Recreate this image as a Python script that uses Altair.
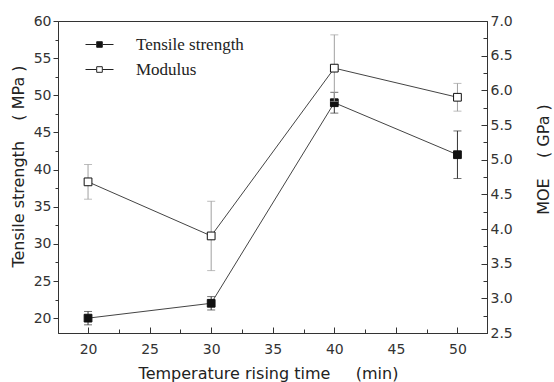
import altair as alt
import pandas as pd

times = [20, 30, 40, 50]
tensile = [20.0, 22.0, 49.0, 42.0]
tensile_err = [0.9, 0.9, 1.4, 3.2]
modulus = [4.68, 3.90, 6.32, 5.90]
modulus_err = [0.25, 0.5, 0.48, 0.2]
series_names = ["Tensile strength", "Modulus"]

x_ticks = [20 + 2.5 * i for i in range(13)]
left_ticks = [20 + 2.5 * i for i in range(17)]
right_ticks = [round(2.5 + 0.25 * i, 2) for i in range(19)]

df_t = pd.DataFrame({
    "t": times, "v": tensile,
    "lo": [v - e for v, e in zip(tensile, tensile_err)],
    "hi": [v + e for v, e in zip(tensile, tensile_err)],
    "series": series_names[0],
})
df_m = pd.DataFrame({
    "t": times, "v": modulus,
    "lo": [v - e for v, e in zip(modulus, modulus_err)],
    "hi": [v + e for v, e in zip(modulus, modulus_err)],
    "series": series_names[1],
})

FONT = "DejaVu Sans"
W, H = 429, 312

xscale = alt.Scale(domain=[17.56, 52.4], nice=False, zero=False)
xaxis = alt.Axis(
    values=x_ticks,
    labelExpr="datum.value % 5 === 0 ? datum.label : ''",
    labelOverlap=False,
    tickSize={"condition": {"test": "datum.value % 5 === 0", "value": -6}, "value": -4},
    labelPadding=15,
    title="Temperature rising time\u00a0\u00a0\u00a0\u00a0\u00a0(min)",
    titleX=210, titleY=40, titleBaseline="middle", titleAlign="center",
    grid=False,
)

lscale = alt.Scale(domain=[18, 60], nice=False, zero=False)
laxis = alt.Axis(
    values=left_ticks,
    labelExpr="datum.value % 5 === 0 ? datum.label : ''",
    labelOverlap=False,
    tickSize={"condition": {"test": "datum.value % 5 === 0", "value": 5}, "value": 3},
    labelPadding=2,
    title="Tensile strength\u00a0\u00a0\u00a0\u00a0(\u00a0MPa\u00a0)",
    titleX=-40, titleY=145, titleBaseline="middle", titleAlign="center", titleAngle=270,
    grid=False, orient="left",
)

rscale = alt.Scale(domain=[2.5, 7.0], nice=False, zero=False)
raxis = alt.Axis(
    values=right_ticks,
    labelExpr="abs(datum.value * 2 - round(datum.value * 2)) < 0.01 ? format(datum.value, '.1f') : ''",
    labelOverlap=False,
    tickSize={"condition": {"test": "abs(datum.value * 2 - round(datum.value * 2)) < 0.01", "value": -6}, "value": -4},
    labelPadding=9,
    title="MOE\u00a0\u00a0\u00a0\u00a0(\u00a0GPa\u00a0)",
    titleX=56, titleY=138, titleBaseline="middle", titleAlign="center", titleAngle=270,
    grid=False, orient="right",
)

legend_path = "M-1,0H-0.22M0.22,0H1M-0.2,-0.2H0.2V0.2H-0.2Z"
fill_scale = alt.Scale(domain=series_names, range=["#111111", "white"])
legend = alt.Legend(
    title=None, orient="none", legendX=27, legendY=12,
    symbolType=legend_path, symbolSize=784, symbolStrokeColor="#222222",
    symbolStrokeWidth=1, labelFont="Liberation Serif", labelFontSize=17,
    labelColor="#222222", labelOffset=22, rowPadding=2, clipHeight=23, padding=0,
)


def series_layer(df, yscale, yaxis, bar_color):
    base = alt.Chart(df)
    x = alt.X("t:Q", scale=xscale, axis=xaxis)

    def y(field):
        return alt.Y(field, type="quantitative", scale=yscale, axis=yaxis)

    line = base.mark_line(color="#444444", strokeWidth=1).encode(x=x, y=y("v"))
    bars = base.mark_rule(color=bar_color, strokeWidth=1).encode(x=x, y=y("lo"), y2="hi:Q")
    cap_lo = base.mark_tick(orient="horizontal", size=8, thickness=1, color=bar_color).encode(
        x=x, y=y("lo"))
    cap_hi = base.mark_tick(orient="horizontal", size=8, thickness=1, color=bar_color).encode(
        x=x, y=y("hi"))
    pts = base.mark_square(size=60, stroke="#111111", strokeWidth=1, opacity=1, filled=True).encode(
        x=x, y=y("v"),
        fill=alt.Fill("series:N", scale=fill_scale, legend=legend))
    return alt.layer(line, bars, cap_lo, cap_hi, pts)


left = series_layer(df_t, lscale, laxis, "#333333")
right = series_layer(df_m, rscale, raxis, "#a0a0a0")

chart = alt.layer(left, right).resolve_scale(y="independent").properties(
    width=W, height=H,
    background="white",
    autosize=alt.AutoSizeParams(type="none"),
    padding={"left": 58, "top": 21, "right": 67, "bottom": 49},
).configure_view(stroke="#333333", strokeWidth=1).configure_axis(
    labelFont=FONT, labelFontSize=14, labelColor="#333333",
    titleFont=FONT, titleFontSize=16, titleFontWeight="normal", titleColor="#222222",
    domainColor="#333333", tickColor="#333333", tickWidth=1, domainWidth=1,
)

chart.save("out.html", embed_options={"renderer": "svg", "actions": False})
